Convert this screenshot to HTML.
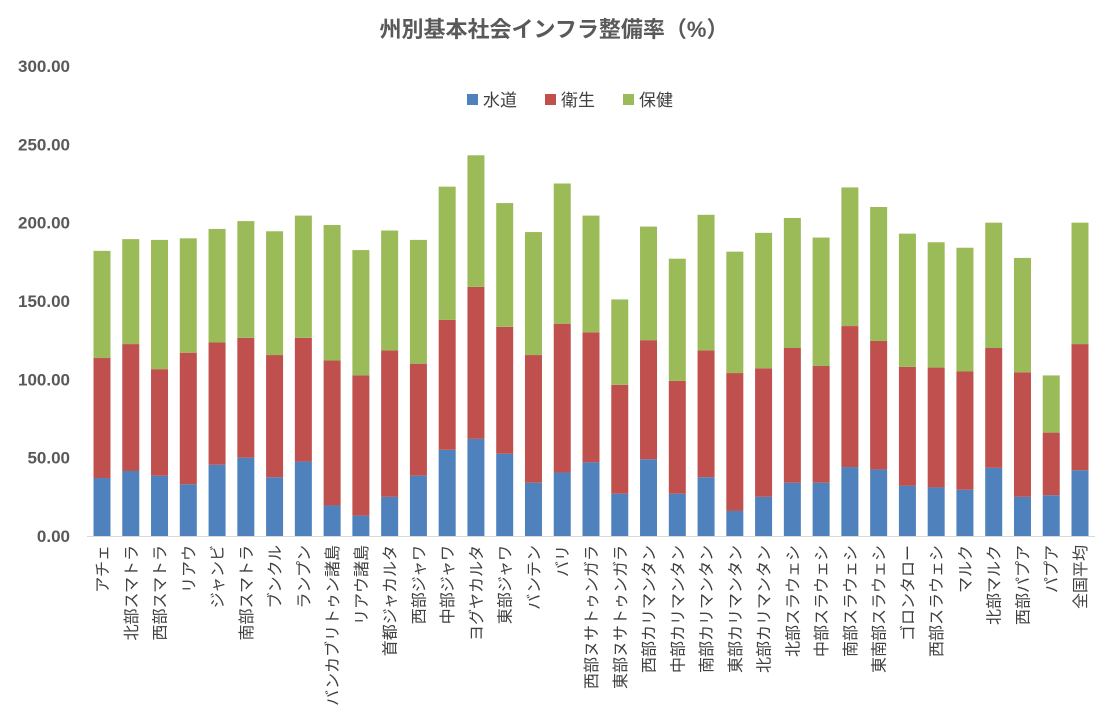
<!DOCTYPE html>
<html><head><meta charset="utf-8"><style>
body{margin:0;background:#fff;}
svg{display:block;font-family:"Liberation Sans","Noto Sans CJK JP",sans-serif;}
</style></head><body>
<svg id="c" width="1108" height="714">
<rect width="1108" height="714" fill="#fff"/>
<text x="554" y="37" text-anchor="middle" font-size="22" font-weight="bold" fill="#595959">州別基本社会インフラ整備率（%）</text>
<g>
<rect x="467" y="94" width="11" height="11" fill="#4f81bd"/>
<text x="483" y="106" font-size="17" fill="#404040">水道</text>
<rect x="545" y="94" width="11" height="11" fill="#c0504d"/>
<text x="561" y="106" font-size="17" fill="#404040">衛生</text>
<rect x="623" y="94" width="11" height="11" fill="#9bbb59"/>
<text x="639" y="106" font-size="17" fill="#404040">保健</text>
</g>
<g id="yax"></g><g id="bars"></g><g id="xl"></g>
<line x1="87" y1="536.5" x2="1095" y2="536.5" stroke="#d9d9d9" stroke-width="1"/>
</svg>
<script>
const categories=["アチェ","北部スマトラ","西部スマトラ","リアウ","ジャンビ","南部スマトラ","ブンクル","ランプン","バンカブリトゥン諸島","リアウ諸島","首都ジャカルタ","西部ジャワ","中部ジャワ","ヨグヤカルタ","東部ジャワ","バンテン","バリ","西部ヌサトゥンガラ","東部ヌサトゥンガラ","西部カリマンタン","中部カリマンタン","南部カリマンタン","東部カリマンタン","北部カリマンタン","北部スラウェシ","中部スラウェシ","南部スラウェシ","東南部スラウェシ","ゴロンタロー","西部スラウェシ","マルク","北部マルク","西部パプア","パプア","全国平均"];
const water=[37,41.5,38.5,33,45.5,50,37.5,47.5,19.5,13,25,38.5,55,62,52.5,34,40.5,47,27,49,27,37.5,16,25,34,34,44,42.5,32,31,29.5,43.5,25,26,42];
const sanitation=[76.6,81,68,84,78,76.5,78,79,92.5,89.5,93.5,71.5,83,97,81,81.5,95,83,69.5,76,72,81,88,82,86,74.5,90,82,76,76.5,75.5,76.5,79.5,40,80.5];
const health=[68.4,67,82.5,73,72.5,74.5,79,78,86.5,80,76.5,79,85,84,79,78.5,89.5,74.5,54.5,72.5,78,86.5,77.5,86.5,83,82,88.5,85.5,85,80,79,80,73,36.5,77.5];
const yTicks=[0,50,100,150,200,250,300];
const NS="http://www.w3.org/2000/svg";
const y0=536,yTop=66,yMax=300;
const Y=v=>y0-(v/yMax)*(y0-yTop);
const X=i=>102+i*(1080-102)/(categories.length-1);
function mk(t,a,p){const e=document.createElementNS(NS,t);for(const k in a)e.setAttribute(k,a[k]);p.appendChild(e);return e;}
const yax=document.getElementById('yax');
yTicks.forEach(t=>{const e=mk('text',{x:70,y:Y(t)+6,'text-anchor':'end','font-size':17,'font-weight':'bold',fill:'#595959'},yax);


e.textContent=t.toFixed(2);});
const bars=document.getElementById('bars'),xl=document.getElementById('xl');
const series=[[water,'#4f81bd','water'],[sanitation,'#c0504d','sanitation'],[health,'#9bbb59','health']];
categories.forEach((c,i)=>{let base=0;const cx=X(i);
series.forEach(([arr,col,nm])=>{const v=arr[i];const r=mk('rect',{x:cx-8.5,y:Y(base+v),width:17,height:Y(base)-Y(base+v),fill:col},bars);


base+=v;});
const t=mk('text',{x:0,y:0,transform:`translate(${cx+6},545) rotate(-90)`,'text-anchor':'end','font-size':16,fill:'#404040'},xl);


t.textContent=c;});
</script>
</body></html>
